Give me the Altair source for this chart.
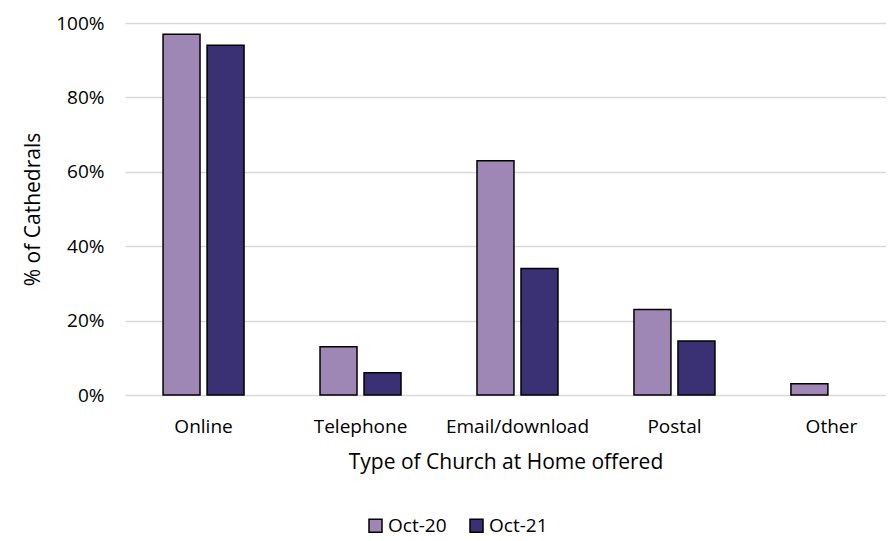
import altair as alt
import pandas as pd

categories = ["Online", "Telephone", "Email/download", "Postal", "Other"]
series = ["Oct-20", "Oct-21"]
oct20 = [0.97, 0.13, 0.63, 0.23, 0.03]
oct21 = [0.94, 0.06, 0.34, 0.145, 0.0]
colors = ["#9F87B5", "#3A3074"]

rows = []
for c, a, b in zip(categories, oct20, oct21):
    rows.append({"category": c, "series": "Oct-20", "value": a})
    rows.append({"category": c, "series": "Oct-21", "value": b})
df = pd.DataFrame(rows)

FONT = "Open Sans"

chart = alt.Chart(df).mark_bar(stroke="black", strokeWidth=1.5).encode(
    x=alt.X("category:N", sort=categories,
            scale=alt.Scale(paddingInner=0.484, paddingOuter=0.166, align=0.73),
            axis=alt.Axis(title="Type of Church at Home offered", labelAngle=0,
                          ticks=False, domain=False, labelPadding=22,
                          labelFontSize=19, titleFontSize=21, titleFontWeight="normal",
                          titlePadding=15, labelColor="black", titleColor="black",
                          labelFont=FONT, titleFont=FONT)),
    xOffset=alt.XOffset("series:N", sort=series, scale=alt.Scale(paddingInner=0.16, paddingOuter=0)),
    y=alt.Y("value:Q", scale=alt.Scale(domain=[0, 1], nice=False),
            axis=alt.Axis(title="% of Cathedrals", format=".0%", values=[0, 0.2, 0.4, 0.6, 0.8, 1.0],
                          ticks=False, tickSize=0, domain=False, labelPadding=21,
                          grid=True, gridColor="#D9D9D9", gridWidth=1.5,
                          labelFontSize=19, titleFontSize=21, titleFontWeight="normal",
                          titlePadding=12, labelColor="black", titleColor="black",
                          labelFont=FONT, titleFont=FONT)),
    color=alt.Color("series:N", sort=series,
                    scale=alt.Scale(domain=series, range=colors),
                    legend=alt.Legend(title=None, orient="none", direction="horizontal",
                                      legendX=241, legendY=493,
                                      symbolType="square", symbolSize=169,
                                      symbolStrokeColor="black", symbolStrokeWidth=1.5,
                                      labelFontSize=19, labelFont=FONT, labelColor="black",
                                      labelOffset=3, columnPadding=20)),
    strokeOpacity=alt.condition("datum.value > 0", alt.value(1), alt.value(0)),
).properties(
    width=761,
    height=372,
    autosize=alt.AutoSizeParams(type="none"),
    padding={"left": 117, "top": 15, "right": 0, "bottom": 146},
).configure_view(stroke=None)

chart.save("out.html", embed_options={"renderer": "svg", "actions": False})
